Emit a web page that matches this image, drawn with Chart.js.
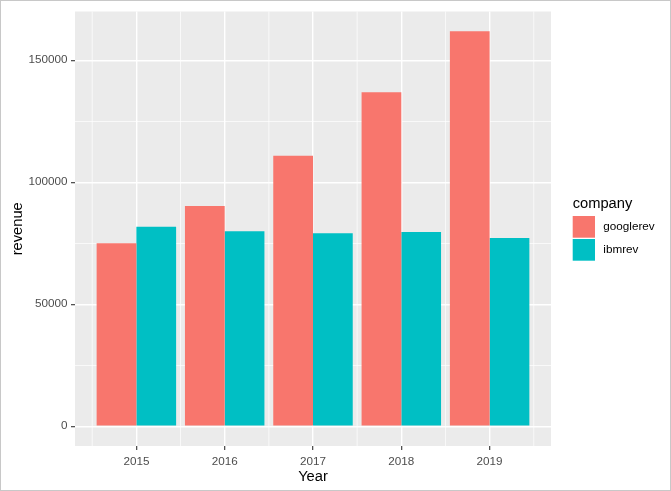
<!DOCTYPE html>
<html><head><meta charset="utf-8">
<script src="https://cdn.jsdelivr.net/npm/chart.js@4"></script>
<style>
html,body{margin:0;padding:0;background:#fff;}
#wrap{position:relative;width:671px;height:491px;box-sizing:border-box;border:1px solid #c8c8c8;}
canvas{display:block;}
</style></head><body>
<div id="wrap"><canvas id="c" width="669" height="489"></canvas></div>
<script>
const years = [2015, 2016, 2017, 2018, 2019];
const googlerev = [74989, 90272, 110855, 136819, 161857];
const ibmrev = [81741, 79919, 79139, 79591, 77147];
const seriesNames = ['googlerev', 'ibmrev'];
const seriesColors = ['#F8766D', '#00BFC4'];
const xMajor = years;
const xMinor = [2014.5, 2015.5, 2016.5, 2017.5, 2018.5, 2019.5];
const yTicks = [0, 25000, 50000, 75000, 100000, 125000, 150000];
const yMajor = [0, 50000, 100000, 150000];
const xMin = 2014.305, xMax = 2019.695;
const yMin = -8093, yMax = 169950;
const legendTitle = 'company';

const FONT = '"Liberation Sans", Arial, sans-serif';

const isMajorY = v => yMajor.includes(v);

const bgPlugin = {
  id: 'panelBg',
  beforeDraw(chart) {
    const {ctx, chartArea: a} = chart;
    ctx.save();
    ctx.fillStyle = '#EBEBEB';
    ctx.fillRect(a.left, a.top, a.right - a.left, a.bottom - a.top);
    ctx.restore();
  },
  beforeDatasetsDraw(chart) {
    const {ctx, chartArea: a} = chart;
    const xs = chart.scales.x;
    ctx.save();
    ctx.strokeStyle = '#FFFFFF';
    ctx.lineWidth = 0.7;
    xMinor.forEach(v => {
      const px = xs.getPixelForValue(v);
      ctx.beginPath();
      ctx.moveTo(px, a.top);
      ctx.lineTo(px, a.bottom);
      ctx.stroke();
    });
    ctx.restore();
  }
};

const legendPlugin = {
  id: 'ggLegend',
  afterDraw(chart) {
    const {ctx} = chart;
    ctx.save();
    ctx.fillStyle = '#000';
    ctx.font = '14.7px ' + FONT;
    ctx.textBaseline = 'alphabetic';
    ctx.textAlign = 'left';
    ctx.fillText(legendTitle, 571.7, 206.7);
    const keyX = 571.7, keyW = 22.3, keyH = 21.7, gap = 1.3;
    let y = 215;
    chart.data.datasets.forEach((ds, i) => {
      ctx.fillStyle = ds.backgroundColor;
      ctx.fillRect(keyX, y, keyW, keyH);
      ctx.fillStyle = '#000';
      ctx.font = '11.7px ' + FONT;
      ctx.textBaseline = 'middle';
      ctx.fillText(ds.label, 602.3, y + keyH / 2);
      y += keyH + gap;
    });
    ctx.restore();
  }
};

const datasets = [googlerev, ibmrev].map((vals, i) => ({
  label: seriesNames[i],
  data: years.map((yr, j) => ({x: yr, y: vals[j]})),
  backgroundColor: seriesColors[i],
  borderWidth: 0,
  barPercentage: 1.0,
  categoryPercentage: 0.9
}));

new Chart(document.getElementById('c'), {
  type: 'bar',
  data: {datasets},
  plugins: [bgPlugin, legendPlugin],
  options: {
    responsive: false,
    animation: false,
    devicePixelRatio: 1,
    layout: {padding: {top: 7, right: 119, bottom: 0, left: 0}},
    plugins: {legend: {display: false}, tooltip: {enabled: false}},
    scales: {
      x: {
        type: 'linear',
        min: xMin, max: xMax,
        offset: false,
        afterBuildTicks: s => { s.ticks = xMajor.map(v => ({value: v})); },
        afterFit: s => { s.height = 44; },
        grid: {
          offset: false,
          color: '#FFFFFF',
          lineWidth: 1.4,
          drawTicks: true,
          tickLength: 4,
          tickColor: '#333333',
          tickWidth: 1.1
        },
        border: {display: false},
        ticks: {
          autoSkip: false,
          maxRotation: 0,
          padding: 5,
          color: '#4D4D4D',
          font: {family: FONT, size: 11.7},
          callback: v => String(v)
        },
        title: {
          display: true, text: 'Year', color: '#000',
          font: {family: FONT, size: 14.7, lineHeight: 1.2},
          padding: {top: 0, bottom: 4.2}
        }
      },
      y: {
        type: 'linear',
        min: yMin, max: yMax,
        afterBuildTicks: s => { s.ticks = yTicks.map(v => ({value: v})); },
        afterFit: s => { s.width = 74; },
        grid: {
          color: '#FFFFFF',
          lineWidth: c => isMajorY(c.tick.value) ? 1.4 : 0.7,
          drawTicks: true,
          tickLength: 4,
          tickColor: c => isMajorY(c.tick.value) ? '#333333' : 'rgba(0,0,0,0)',
          tickWidth: 1.1
        },
        border: {display: false},
        ticks: {
          autoSkip: false,
          padding: 3.5,
          color: '#4D4D4D',
          font: {family: FONT, size: 11.7},
          callback: v => isMajorY(v) ? String(v) : ''
        },
        title: {
          display: true, text: 'revenue', color: '#000',
          font: {family: FONT, size: 14.7, lineHeight: 1.2},
          padding: {top: 8.5, bottom: 0}
        }
      }
    }
  }
});
</script>
</body></html>
